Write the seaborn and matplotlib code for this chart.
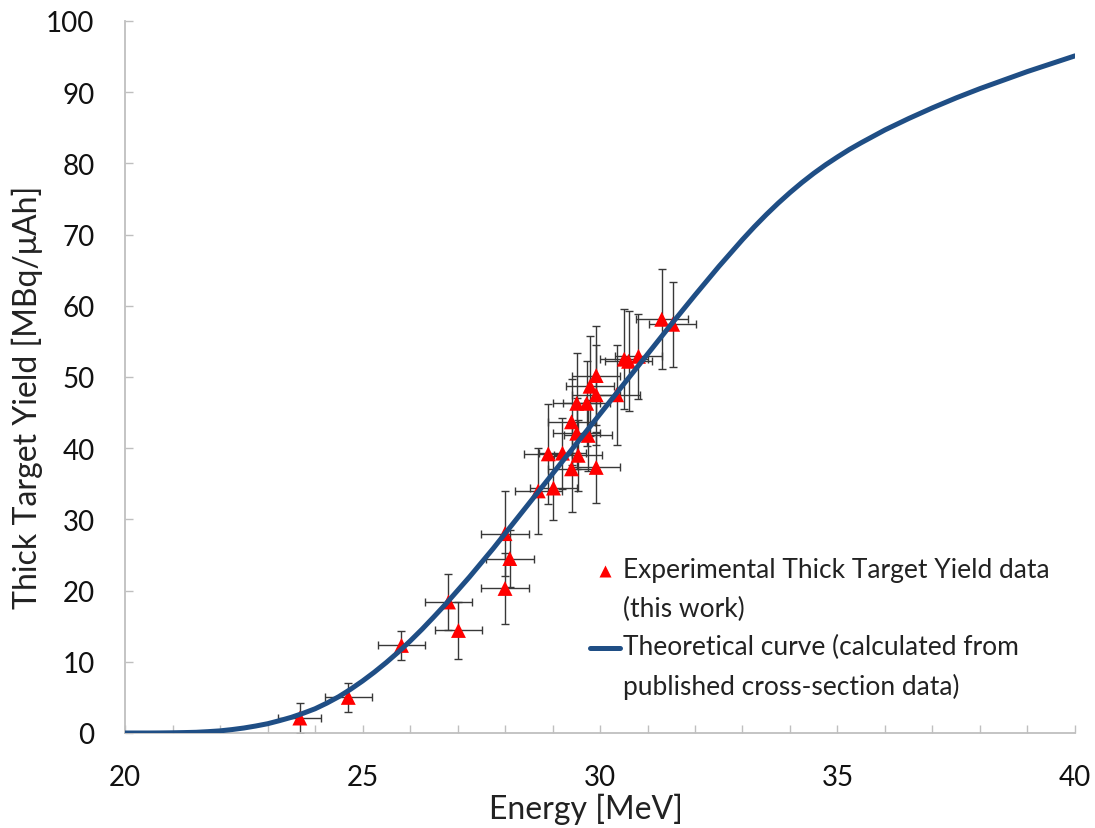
import numpy as np
import pandas as pd
import matplotlib
matplotlib.use("Agg")
import matplotlib.pyplot as plt
from matplotlib.lines import Line2D
from matplotlib.legend_handler import HandlerLine2D
from matplotlib.ticker import MultipleLocator
import seaborn as sns

# Measured thick target yields (this work)
energy = [23.68, 24.70, 25.82, 26.81, 27.02, 28.00, 28.10, 28.00, 28.70, 29.02,
          28.91, 29.21, 29.40, 29.54, 29.92, 29.51, 29.40, 29.75, 29.51, 29.72,
          29.92, 29.79, 29.92, 30.35, 30.51, 30.60, 30.81, 31.30, 31.53]
yield_meas = [2.1, 5.0, 12.3, 18.4, 14.4, 28.0, 24.5, 20.3, 34.0, 34.4,
              39.2, 39.3, 37.1, 39.0, 37.3, 42.1, 43.7, 41.8, 46.3, 46.3,
              47.5, 48.7, 50.2, 47.5, 52.5, 52.2, 52.9, 58.1, 57.4]
energy_err = [0.45, 0.5, 0.5, 0.5, 0.5, 0.5, 0.5, 0.5, 0.5, 0.5,
              0.5, 0.5, 0.5, 0.5, 0.5, 0.5, 0.5, 0.5, 0.5, 0.5,
              0.5, 0.5, 0.5, 0.5, 0.5, 0.5, 0.5, 0.55, 0.5]
yield_err = [2.1, 2.0, 2.0, 4.0, 4.0, 6.0, 4.0, 5.0, 6.0, 4.5,
             7.0, 5.0, 6.0, 5.0, 5.0, 5.0, 6.0, 5.0, 7.0, 6.0,
             7.0, 7.0, 7.0, 7.0, 7.0, 7.0, 6.0, 7.0, 6.0]

# Theoretical yield curve from published cross sections (0.25 MeV steps)
curve_energy = [20.00, 20.25, 20.50, 20.75, 21.00, 21.25, 21.50, 21.75,
                22.00, 22.25, 22.50, 22.75, 23.00, 23.25, 23.50, 23.75,
                24.00, 24.25, 24.50, 24.75, 25.00, 25.25, 25.50, 25.75,
                26.00, 26.25, 26.50, 26.75, 27.00, 27.25, 27.50, 27.75,
                28.00, 28.25, 28.50, 28.75, 29.00, 29.25, 29.50, 29.75,
                30.00, 30.25, 30.50, 30.75, 31.00, 31.25, 31.50, 31.75,
                32.00, 32.25, 32.50, 32.75, 33.00, 33.25, 33.50, 33.75,
                34.00, 34.25, 34.50, 34.75, 35.00, 35.25, 35.50, 35.75,
                36.00, 36.25, 36.50, 36.75, 37.00, 37.25, 37.50, 37.75,
                38.00, 38.25, 38.50, 38.75, 39.00, 39.25, 39.50, 39.75, 40.00]
curve_yield = [0.00, 0.00, 0.00, 0.01, 0.03, 0.06, 0.10, 0.19,
               0.30, 0.48, 0.70, 0.98, 1.30, 1.73, 2.20, 2.77,
               3.40, 4.20, 5.10, 6.15, 7.30, 8.55, 9.90, 11.35,
               12.90, 14.55, 16.30, 18.10, 20.00, 21.90, 23.90, 25.90,
               28.00, 30.10, 32.20, 34.30, 36.40, 38.50, 40.60, 42.70,
               44.80, 46.90, 49.00, 51.10, 53.20, 55.30, 57.40, 59.45,
               61.50, 63.50, 65.50, 67.40, 69.30, 71.10, 72.80, 74.40,
               75.90, 77.30, 78.60, 79.80, 80.90, 81.95, 82.90, 83.80,
               84.70, 85.50, 86.30, 87.05, 87.80, 88.50, 89.20, 89.85,
               90.50, 91.10, 91.70, 92.30, 92.90, 93.45, 94.00, 94.55, 95.10]

x_ticks = [20, 25, 30, 35, 40]
y_ticks = [0, 10, 20, 30, 40, 50, 60, 70, 80, 90, 100]

meas = pd.DataFrame({"energy": energy, "yield": yield_meas,
                     "xerr": energy_err, "yerr": yield_err})
theory = pd.DataFrame({"energy": curve_energy, "yield": curve_yield})

sns.set_theme(style="white")
plt.rcParams["font.family"] = ["Lato", "DejaVu Sans"]

LINE_BLUE = "#1F4E85"
AXIS_GREY = "#BFBFBF"


class FirstLineHandler(HandlerLine2D):
    """Legend handler that puts the key level with the first text line."""

    def __init__(self, raise_pts, **kw):
        super().__init__(**kw)
        self.raise_pts = raise_pts

    def create_artists(self, legend, orig_handle, xdescent, ydescent,
                       width, height, fontsize, trans):
        return super().create_artists(legend, orig_handle, xdescent,
                                      ydescent - 2 * self.raise_pts,
                                      width, height, fontsize, trans)


fig = plt.figure(figsize=(10.95, 8.29), dpi=100)
ax = fig.add_axes([0.1142, 0.1146, 0.8675, 0.8589])

ax.errorbar(meas["energy"], meas["yield"], xerr=meas["xerr"], yerr=meas["yerr"],
            fmt="none", ecolor="#383838", elinewidth=1.0, capsize=3.0,
            capthick=1.0, zorder=2)
sns.scatterplot(data=meas, x="energy", y="yield", marker="^", s=115,
                color="#FF0000", edgecolor="none", ax=ax, zorder=3, legend=False)
sns.lineplot(data=theory, x="energy", y="yield", color=LINE_BLUE,
             linewidth=3.6, ax=ax, zorder=4, legend=False)
ax.lines[-1].set_solid_joinstyle("round")

ax.set_xlim(20, 40)
ax.set_ylim(0, 100)
ax.set_xticks(x_ticks)
ax.set_yticks(y_ticks)
ax.xaxis.set_minor_locator(MultipleLocator(1))

for side in ("top", "right"):
    ax.spines[side].set_visible(False)
for side in ("left", "bottom"):
    ax.spines[side].set_color(AXIS_GREY)
    ax.spines[side].set_linewidth(1.3)

ax.tick_params(axis="x", which="both", direction="in", length=6, width=1.0,
               color=AXIS_GREY, pad=22, labelsize=20, labelcolor="#111111",
               bottom=True)
ax.tick_params(axis="y", which="major", direction="in", length=6, width=1.0,
               color=AXIS_GREY, pad=22, labelsize=20, labelcolor="#111111",
               left=True)

ax.set_xlabel("Energy [MeV]", fontsize=23, color="#222222", labelpad=2.5)
ax.set_ylabel("Thick Target Yield [MBq/μAh]", fontsize=23, color="#222222",
              labelpad=2)
ax.xaxis.label.set_x(0.485)
ax.yaxis.label.set_y(0.473)

LEG_FS = 19
handles = [
    Line2D([], [], linestyle="none", marker="^", markersize=9,
           markerfacecolor="#FF0000", markeredgecolor="none"),
    Line2D([], [], color=LINE_BLUE, linewidth=3.6),
]
labels = ["Experimental Thick Target Yield data\n(this work)",
          "Theoretical curve (calculated from\npublished cross-section data)"]
leg = ax.legend(handles, labels, loc="upper left", bbox_to_anchor=(0.489, 0.2465),
                frameon=False, fontsize=LEG_FS, handlelength=1.15,
                handletextpad=0.1, labelspacing=0.5, borderpad=0,
                borderaxespad=0,
                handler_map={h: FirstLineHandler(raise_pts=13.6) for h in handles})
for t in leg.get_texts():
    t.set_linespacing(1.66)
    t.set_color("#222222")

fig.savefig("out.png", dpi=100, facecolor="white")
